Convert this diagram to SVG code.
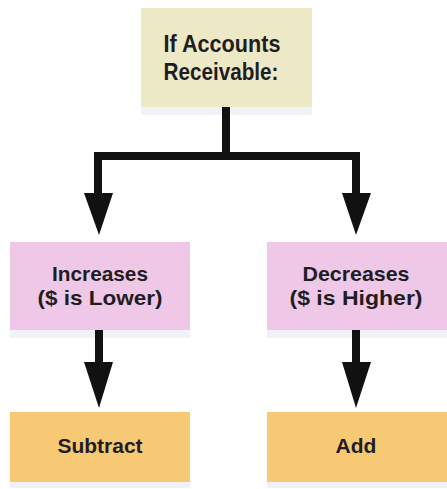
<svg xmlns="http://www.w3.org/2000/svg" width="447" height="489" viewBox="0 0 447 489">
  <style>
    .lbl { font-family: "Liberation Sans", Arial, sans-serif; font-weight: bold; fill: #1e1e22; text-anchor: middle; }
    .big { font-size: 23px; }
    .midt { font-size: 21px; }
    .small { font-size: 21px; }
    .top { fill: #EDE8C6; }
    .mid { fill: #EFC7E7; }
    .bot { fill: #F8C974; }
    .shadow { fill: #E4EAF0; opacity: 0.6; }
    .wire { fill: none; stroke: #111; stroke-width: 8; stroke-linejoin: miter; }
    .head { fill: #111; }
  </style>
  <rect width="447" height="489" fill="#ffffff"/>

  <g id="node-ar">
    <rect class="shadow" x="141" y="107" width="171" height="8"/>
    <rect class="top" x="141" y="8" width="171" height="99"/>
    <text class="lbl big" x="222" y="52" textLength="117" lengthAdjust="spacingAndGlyphs">If Accounts</text>
    <text class="lbl big" x="221" y="80" textLength="115" lengthAdjust="spacingAndGlyphs">Receivable:</text>
  </g>

  <g id="node-increases">
    <rect class="shadow" x="10" y="330" width="180" height="8"/>
    <rect class="mid" x="10" y="242" width="180" height="88"/>
    <text class="lbl midt" x="100" y="281" textLength="96" lengthAdjust="spacingAndGlyphs">Increases</text>
    <text class="lbl midt" x="100" y="305" textLength="125" lengthAdjust="spacingAndGlyphs">($ is Lower)</text>
  </g>

  <g id="node-decreases">
    <rect class="shadow" x="267" y="330" width="180" height="8"/>
    <rect class="mid" x="267" y="242" width="180" height="88"/>
    <text class="lbl midt" x="356" y="281" textLength="107" lengthAdjust="spacingAndGlyphs">Decreases</text>
    <text class="lbl midt" x="356" y="305" textLength="133" lengthAdjust="spacingAndGlyphs">($ is Higher)</text>
  </g>

  <g id="node-subtract">
    <rect class="shadow" x="10" y="482" width="180" height="6"/>
    <rect class="bot" x="10" y="412" width="180" height="70"/>
    <text class="lbl small" x="100" y="453">Subtract</text>
  </g>

  <g id="node-add">
    <rect class="shadow" x="267" y="482" width="180" height="6"/>
    <rect class="bot" x="267" y="412" width="180" height="70"/>
    <text class="lbl small" x="356" y="453">Add</text>
  </g>

  <g id="connectors">
    <path class="wire" d="M226 107 V156 M98 195 V156 H356 V195"/>
    <polygon class="head" points="84,193 113,193 99,235"/>
    <polygon class="head" points="342,193 371,193 356,235"/>
    <path class="wire" d="M99 330 V364 M356 330 V364"/>
    <polygon class="head" points="84,362 113,362 99,408"/>
    <polygon class="head" points="342,362 371,362 356,408"/>
  </g>
</svg>
